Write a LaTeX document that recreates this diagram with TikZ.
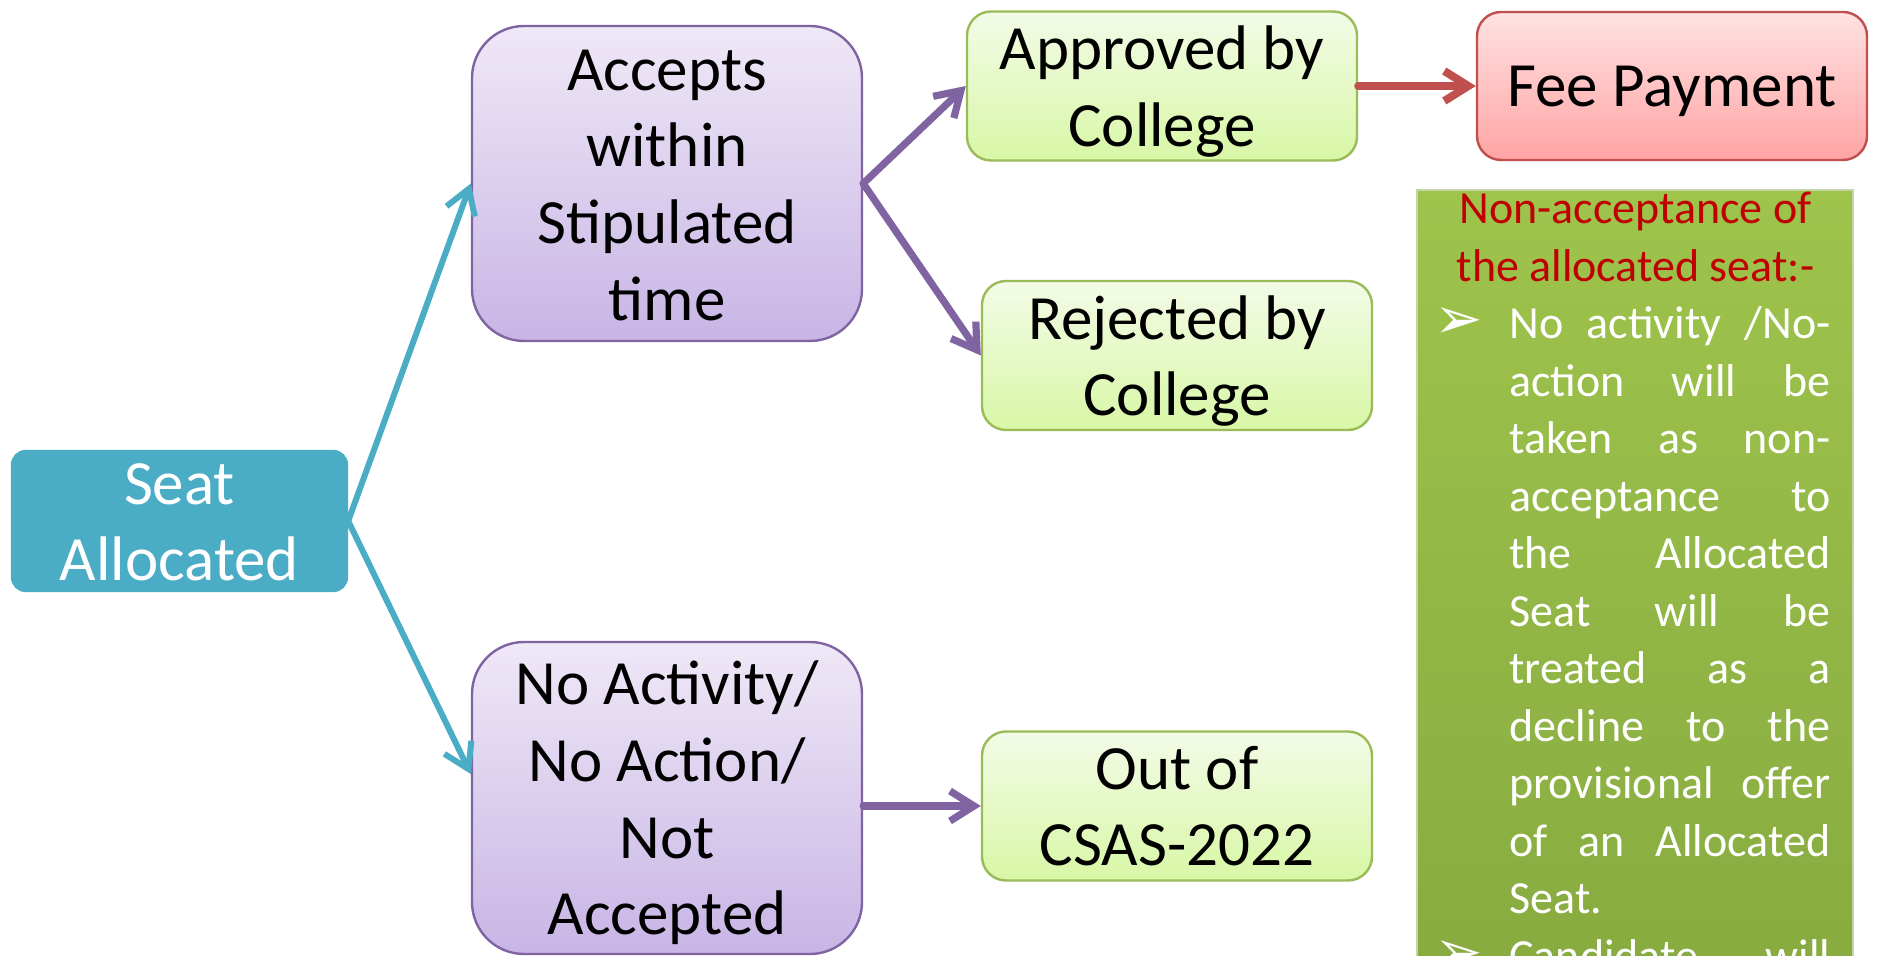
\documentclass[tikz,border=0pt]{standalone}
\usepackage{fontspec}
\setmainfont{Carlito}
\newfontfamily\symb{DejaVu Sans}
\usetikzlibrary{arrows.meta}
\definecolor{seatblue}{HTML}{4BACC6}
\definecolor{accpurple}{HTML}{8064A2}
\definecolor{feered}{HTML}{C0504D}
\definecolor{okgreen}{HTML}{9BBB59}
\definecolor{titlered}{HTML}{C00000}
\definecolor{panelgreen}{HTML}{C5D6A6}
\newcommand{\nodesc}[1]{\raisebox{0pt}[\height][0pt]{#1}}
\newcommand{\arrowbullet}{\llap{\makebox[34.5pt][l]{\hspace{-3pt}\symb\fontsize{29}{29}\selectfont ➢}}}

\begin{document}
\begin{tikzpicture}[x=0.5pt,y=-0.5pt,
  box/.style={rectangle, align=center, inner sep=0pt, line width=1.2pt, font=\fontsize{31.5}{38.3}\selectfont},
  purplebox/.style={box, draw=accpurple, top color={rgb,255:red,239;green,232;blue,247}, bottom color={rgb,255:red,200;green,181;blue,229}, rounded corners=26pt, minimum width=195pt},
  greenbox/.style={box, draw=okgreen, top color={rgb,255:red,243;green,251;blue,231}, bottom color={rgb,255:red,216;green,247;blue,166}, rounded corners=12pt, minimum width=195pt, minimum height=74.5pt},
  arr/.style={-{Straight Barb[length=12pt,width=15pt]}, line cap=round, line join=round}
]

\useasboundingbox (0,0) rectangle (1877,956);

\node[box, fill=seatblue, draw=seatblue, rounded corners=7pt, minimum width=167.5pt, minimum height=70pt, text=white] (v1) at (179.5,521) {\vphantom{l}Seat\\Allocated};
\node[purplebox, minimum height=157.5pt] (v2) at (667,183.5) {\vphantom{l}Accepts\\within\\Stipulated\\time};
\node[purplebox, minimum height=156pt] (v3) at (667,798) {No Activity/\\No Action/\\Not\\\nodesc{Accepted}};
\node[greenbox] (v4) at (1162,86) {Approved by\\\nodesc{College}};
\node[box, draw=feered, top color={rgb,255:red,255;green,226;blue,226}, bottom color={rgb,255:red,255;green,164;blue,164}, rounded corners=12pt, minimum width=195pt, minimum height=74pt] (v5) at (1672,86) {\nodesc{Fee Payment}};
\node[greenbox] (v6) at (1177,355.5) {Rejected by\\\nodesc{College}};
\node[greenbox] (v7) at (1177,806) {Out of\\CSAS-2022};

\node[rectangle, anchor=north west, draw=panelgreen, line width=0.8pt, top color={rgb,255:red,158;green,196;blue,76}, bottom color={rgb,255:red,136;green,171;blue,64}, minimum width=218pt, minimum height=390pt] (v8) at (1416,189) {};
\node[anchor=north west, text width=195pt, align=justify, inner sep=0pt, font=\fontsize{23}{28.75}\selectfont] (v9) at (1440,192) {\tolerance=10000\hbadness=10000
{\color{titlered}\centering Non-acceptance of\\the allocated seat:-\par}
\color{white}\hangindent=34.5pt\hangafter=0\noindent\arrowbullet No activity /No-\linebreak action will be\linebreak taken as non-\linebreak acceptance to\linebreak the Allocated\linebreak Seat will be\linebreak treated as a\linebreak decline to the\linebreak provisional offer\linebreak of an Allocated\linebreak Seat.\par
\hangindent=34.5pt\hangafter=0\noindent\arrowbullet Candidate\hfill will\par};

\draw[arr, seatblue, line width=3pt] (v1.east) -- (v2.west);
\draw[arr, seatblue, line width=3pt] (v1.east) -- ([yshift=12pt]v3.west);
\draw[arr, accpurple, line width=3.6pt] (v2.east) -- (v4.west);
\draw[arr, accpurple, line width=3.6pt] (v2.east) -- (v6.west);
\draw[arr, feered, line width=4pt] (v4.east) -- (v5.west);
\draw[arr, accpurple, line width=3.6pt] (v3.east |- v7.west) -- (v7.west);

\end{tikzpicture}
\end{document}
